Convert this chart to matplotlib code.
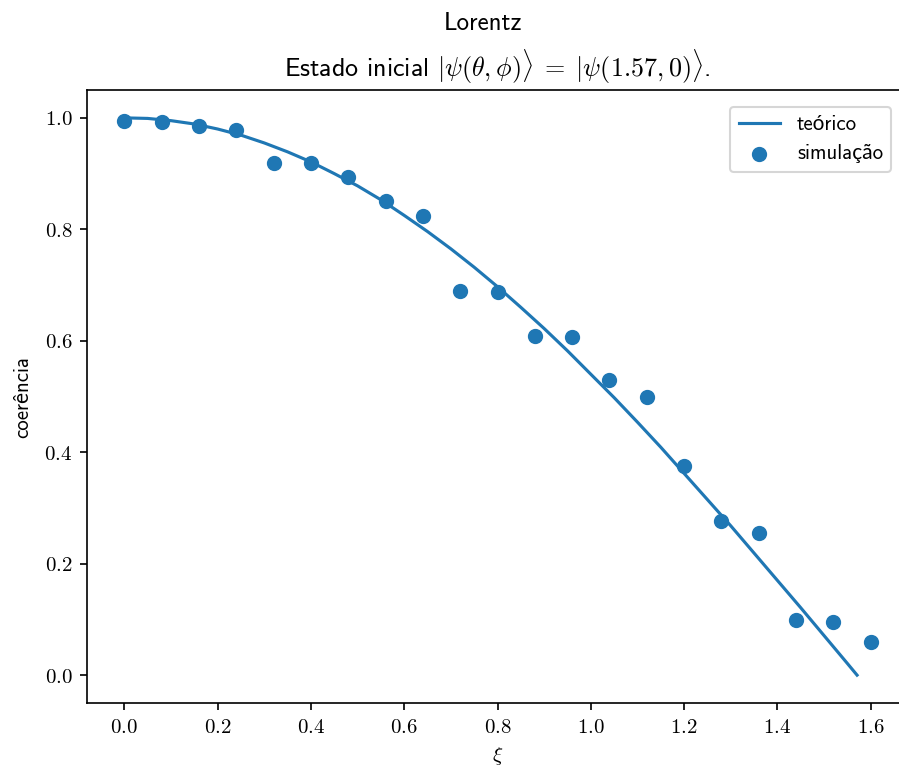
import matplotlib
matplotlib.use("Agg")
import matplotlib.pyplot as plt
from matplotlib.ticker import FuncFormatter

# theoretical curve
xi_theory = [0.00, 0.05, 0.10, 0.15, 0.20, 0.25, 0.30, 0.35, 0.40, 0.45, 0.50,
             0.55, 0.60, 0.65, 0.70, 0.75, 0.80, 0.85, 0.90, 0.95, 1.00, 1.05,
             1.10, 1.15, 1.20, 1.25, 1.30, 1.35, 1.40, 1.45, 1.50, 1.55, 1.5708]
coh_theory = [1.000, 0.999, 0.995, 0.989, 0.980, 0.969, 0.955, 0.939, 0.921,
              0.900, 0.878, 0.853, 0.825, 0.796, 0.765, 0.732, 0.697, 0.660,
              0.622, 0.582, 0.540, 0.498, 0.454, 0.409, 0.362, 0.315, 0.268,
              0.219, 0.170, 0.121, 0.071, 0.021, 0.000]

# simulation points
xi_sim = [0.00, 0.08, 0.16, 0.24, 0.32, 0.40, 0.48, 0.56, 0.64, 0.72, 0.80,
          0.88, 0.96, 1.04, 1.12, 1.20, 1.28, 1.36, 1.44, 1.52, 1.60]
coh_sim = [0.995, 0.993, 0.986, 0.978, 0.919, 0.919, 0.894, 0.851, 0.824,
           0.689, 0.688, 0.609, 0.607, 0.530, 0.499, 0.375, 0.276, 0.255,
           0.099, 0.095, 0.059]

plt.rcParams['mathtext.fontset'] = 'cm'
plt.rcParams['font.family'] = ['cmss10', 'Lato', 'DejaVu Sans']
plt.rcParams['axes.unicode_minus'] = False

fig = plt.figure(figsize=(899/150, 771/150), dpi=150)
ax = fig.add_axes([87/899, 68/771, 821/899, 613/771])

ax.plot(xi_theory, coh_theory, color='#1f77b4', lw=1.5, label='teórico')
ax.scatter(xi_sim, coh_sim, color='#1f77b4', s=40, label='simulação', zorder=3)

ax.set_xlim(-0.08, 1.68)
ax.set_ylim(-0.05, 1.05)
ax.set_xticks([0.0, 0.2, 0.4, 0.6, 0.8, 1.0, 1.2, 1.4, 1.6])
ax.set_yticks([0.0, 0.2, 0.4, 0.6, 0.8, 1.0])
fmt = FuncFormatter(lambda v, p: r'$%.1f$' % v)
ax.xaxis.set_major_formatter(fmt)
ax.yaxis.set_major_formatter(fmt)
ax.spines['right'].set_visible(False)

ax.set_xlabel(r'$\xi$')
ax.set_ylabel('coerência', labelpad=6)
ax.set_title(r'Estado inicial $|\psi(\theta, \phi)\rangle \;=\; |\psi(1.57, 0)\rangle$.',
             fontsize=12.5)
fig.suptitle('Lorentz', x=483/899, y=0.985, fontsize=12)
ax.legend(loc='upper right', borderaxespad=0.8)

fig.savefig('out.png', dpi=150)
